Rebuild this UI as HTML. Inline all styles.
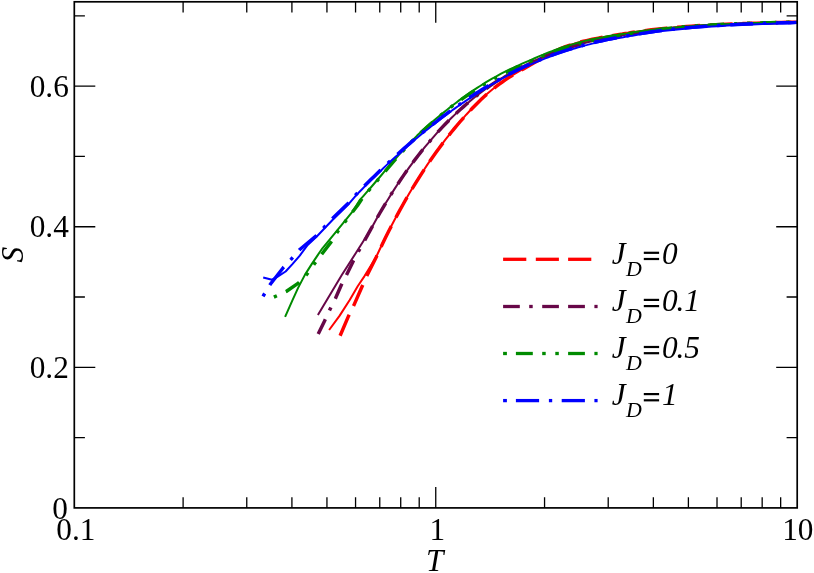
<!DOCTYPE html>
<html><head><meta charset="utf-8"><title>S vs T</title>
<style>html,body{margin:0;padding:0;background:#fff;}body{width:814px;height:573px;overflow:hidden;position:relative;font-family:"Liberation Serif",serif;}</style>
</head><body>
<svg width="814" height="573" viewBox="0 0 814 573" style="position:absolute;left:0;top:0;will-change:transform">
<rect x="0" y="0" width="814" height="573" fill="#fff"/>
<clipPath id="c"><rect x="74.3" y="1.8" width="722.9000000000001" height="506.09999999999997"/></clipPath>
<g clip-path="url(#c)">
<polyline points="340.1,335.7 348.6,315.9 353.7,305.6 362.2,286.3 366.7,276.1 376.3,256.9 379.3,250.5 382.3,244.3 385.3,238.1 388.3,232.1 391.3,226.2 394.3,220.5 397.3,214.9 400.3,209.4 403.3,204.0 406.3,198.7 409.3,193.6 412.3,188.5 415.3,183.6 418.3,178.8 421.3,174.1 424.3,169.5 427.3,164.9 430.3,160.5 433.3,156.2 436.3,152.0 439.3,147.9 442.3,143.9 445.3,139.9 448.3,136.1 451.3,132.3 454.3,128.6 457.3,125.0 460.3,121.5 463.3,118.1 466.3,114.7 469.3,111.5 472.3,108.3 475.3,105.2 478.3,102.2 481.3,99.3 484.3,96.5 487.3,93.8 490.3,91.2 493.3,88.7 496.3,86.4 499.3,84.1 502.3,82.0 505.3,79.9 508.3,77.9 511.3,76.0 514.4,74.2 517.4,72.4 520.4,70.6 523.4,68.9 526.4,67.2 529.4,65.5 532.4,63.8 535.4,62.1 538.4,60.4 541.4,58.7 544.4,57.0 547.4,55.3 550.4,53.7 553.4,52.1 556.4,50.6 559.4,49.1 562.4,47.8 565.4,46.6 568.4,45.6 571.4,44.6 574.4,43.7 577.4,42.8 580.4,42.0 583.4,41.3 586.4,40.6 589.4,39.9 592.4,39.3 595.4,38.7 598.4,38.1 601.4,37.5 604.4,36.9 607.4,36.4 610.4,35.9 613.4,35.4 616.4,34.9 619.4,34.4 622.4,34.0 625.4,33.5 628.4,33.1 631.4,32.5 636.4,31.8 641.4,31.1 646.4,30.4 651.4,29.8 656.4,29.3 661.4,28.7 666.4,28.2 671.4,27.8 676.4,27.3 681.4,26.9 686.4,26.5 691.4,26.2 696.4,25.8 701.4,25.5 706.4,25.2 711.4,24.9 716.4,24.7 721.4,24.4 726.4,24.2 731.4,24.0 736.4,23.8 741.4,23.6 746.4,23.4 751.4,23.2 756.4,23.1 761.4,22.9 766.4,22.8 771.4,22.7 776.4,22.5 781.4,22.4 786.4,22.3 791.4,22.2 796.4,22.1 797.0,22.1" fill="none" stroke="#ff0000" stroke-width="3.45" stroke-linejoin="round" stroke-dasharray="22.89,9.81" stroke-dashoffset="0"/>
<polyline points="329.1,330.0 339.5,315.9 349.7,300.0 357.7,286.3 364.5,276.1 376.2,256.9 379.2,250.5 382.2,244.3 385.2,238.1 388.2,232.1 391.2,226.2 394.2,220.5 397.2,214.9 400.2,209.4 403.2,204.0 406.2,198.7 409.2,193.6 412.2,188.5 415.2,183.6 418.2,178.8 421.2,174.1 424.2,169.5 427.2,164.9 430.2,160.5 433.2,156.2 436.2,152.0 439.2,147.9 442.2,143.9 445.2,139.9 448.2,136.1 451.2,132.3 454.2,128.6 457.2,125.0 460.2,121.5 463.2,118.1 466.2,114.7 469.2,111.5 472.2,108.3 475.2,105.2 478.2,102.2 481.2,99.3 484.2,96.5 487.2,93.8 490.2,91.2 493.2,88.7 496.2,86.4 499.2,84.1 502.2,82.0 505.2,79.9 508.2,77.9 511.2,76.0 514.2,74.2 517.2,72.4 520.2,70.6 523.2,68.9 526.2,67.2 529.2,65.5 532.2,63.8 535.2,62.1 538.2,60.4 541.2,58.7 544.2,57.0 547.2,55.3 550.2,53.7 553.2,52.1 556.2,50.6 559.2,49.1 562.2,47.8 565.2,46.6 568.2,45.6 571.2,44.6 574.2,43.7 577.2,42.8 580.2,42.0 583.2,41.3 586.2,40.6 589.2,39.9 592.2,39.3 595.2,38.7 598.2,38.1 601.2,37.5 604.2,36.9 607.2,36.4 610.2,35.9 613.2,35.4 616.2,34.9 619.2,34.4 622.2,34.0 625.2,33.5 628.2,33.1 631.2,32.5 636.2,31.8 641.2,31.1 646.2,30.4 651.2,29.8 656.2,29.3 661.2,28.7 666.2,28.2 671.2,27.8 676.2,27.3 681.2,26.9 686.2,26.5 691.2,26.2 696.2,25.8 701.2,25.5 706.2,25.2 711.2,24.9 716.2,24.7 721.2,24.4 726.2,24.2 731.2,24.0 736.2,23.8 741.2,23.6 746.2,23.4 751.2,23.2 756.2,23.1 761.2,22.9 766.2,22.8 771.2,22.7 776.2,22.5 781.2,22.4 786.2,22.3 791.2,22.2 796.2,22.1 796.9,22.1" fill="none" stroke="#ff0000" stroke-width="2.0" stroke-linejoin="round"/>
<polyline points="318.2,334.0 324.8,320.4 329.9,309.6 335.5,298.3 341.2,285.2 346.5,275.0 353.1,261.4 358.7,251.0 364.6,240.5 370.6,229.7 373.6,224.2 376.6,218.8 379.6,213.5 382.6,208.4 385.6,203.3 388.6,198.4 391.6,193.6 394.6,188.9 397.6,184.3 400.6,179.8 403.6,175.4 406.6,171.1 409.6,166.9 412.6,162.8 415.6,158.9 418.6,155.0 421.6,151.1 424.6,147.4 427.6,143.8 430.6,140.3 433.6,136.8 436.6,133.4 439.6,130.1 442.6,126.9 445.6,123.8 448.6,120.7 451.6,117.8 454.6,114.9 457.6,112.0 460.6,109.3 463.6,106.6 466.6,104.0 469.6,101.4 472.6,99.0 475.6,96.5 478.6,94.2 481.6,91.9 484.6,89.7 487.6,87.5 490.6,85.4 493.6,83.4 496.6,81.4 499.6,79.4 502.6,77.6 505.6,75.7 508.6,74.0 511.6,72.2 514.6,70.6 517.6,68.9 520.6,67.4 523.6,65.8 526.6,64.3 529.6,62.9 532.6,61.5 535.6,60.1 538.6,58.8 541.6,57.5 544.6,56.3 547.6,55.1 550.6,53.9 553.6,52.8 556.6,51.7 559.6,50.6 562.6,49.6 565.6,48.6 568.6,47.6 571.6,46.7 574.6,45.8 577.6,45.0 580.6,44.1 583.6,43.3 586.6,42.6 589.6,41.8 592.6,41.1 595.6,40.4 598.6,39.7 601.6,39.1 604.6,38.5 607.6,37.9 610.6,37.3 613.6,36.7 616.6,36.2 619.6,35.7 622.6,35.2 625.6,34.7 628.6,34.2 631.6,33.9 636.6,33.0 641.6,32.3 646.6,31.6 651.6,30.9 656.6,30.3 661.6,29.7 666.6,29.1 671.6,28.6 676.6,28.1 681.6,27.7 686.6,27.2 691.6,26.8 696.6,26.4 701.6,26.1 706.6,25.7 711.6,25.4 716.6,25.1 721.6,24.9 726.6,24.6 731.6,24.4 736.6,24.1 741.6,23.9 746.6,23.7 751.6,23.5 756.6,23.4 761.6,23.2 766.6,23.0 771.6,22.9 776.6,22.8 781.6,22.6 786.6,22.5 791.6,22.4 796.6,22.3 796.9,22.3" fill="none" stroke="#670748" stroke-width="3.45" stroke-linejoin="round" stroke-dasharray="16.35,9.81,3.27,9.81,16.35,9.81" stroke-dashoffset="0"/>
<polyline points="317.9,314.9 341.8,275.0 356.5,252.0 370.6,229.7 373.6,224.2 376.6,218.8 379.6,213.5 382.6,208.4 385.6,203.3 388.6,198.4 391.6,193.6 394.6,188.9 397.6,184.3 400.6,179.8 403.6,175.4 406.6,171.1 409.6,166.9 412.6,162.8 415.6,158.9 418.6,155.0 421.6,151.1 424.6,147.4 427.6,143.8 430.6,140.3 433.6,136.8 436.6,133.4 439.6,130.1 442.6,126.9 445.6,123.8 448.6,120.7 451.6,117.8 454.6,114.9 457.6,112.0 460.6,109.3 463.6,106.6 466.6,104.0 469.6,101.4 472.6,99.0 475.6,96.5 478.6,94.2 481.6,91.9 484.6,89.7 487.6,87.5 490.6,85.4 493.6,83.4 496.6,81.4 499.6,79.4 502.6,77.6 505.6,75.7 508.6,74.0 511.6,72.2 514.6,70.6 517.6,68.9 520.6,67.4 523.6,65.8 526.6,64.3 529.6,62.9 532.6,61.5 535.6,60.1 538.6,58.8 541.6,57.5 544.6,56.3 547.6,55.1 550.6,53.9 553.6,52.8 556.6,51.7 559.6,50.6 562.6,49.6 565.6,48.6 568.6,47.6 571.6,46.7 574.6,45.8 577.6,45.0 580.6,44.1 583.6,43.3 586.6,42.6 589.6,41.8 592.6,41.1 595.6,40.4 598.6,39.7 601.6,39.1 604.6,38.5 607.6,37.9 610.6,37.3 613.6,36.7 616.6,36.2 619.6,35.7 622.6,35.2 625.6,34.7 628.6,34.2 631.6,33.9 636.6,33.0 641.6,32.3 646.6,31.6 651.6,30.9 656.6,30.3 661.6,29.7 666.6,29.1 671.6,28.6 676.6,28.1 681.6,27.7 686.6,27.2 691.6,26.8 696.6,26.4 701.6,26.1 706.6,25.7 711.6,25.4 716.6,25.1 721.6,24.9 726.6,24.6 731.6,24.4 736.6,24.1 741.6,23.9 746.6,23.7 751.6,23.5 756.6,23.4 761.6,23.2 766.6,23.0 771.6,22.9 776.6,22.8 781.6,22.6 786.6,22.5 791.6,22.4 796.6,22.3 796.9,22.3" fill="none" stroke="#670748" stroke-width="2.0" stroke-linejoin="round"/>
<polyline points="273.9,297.1 286.2,291.5 298.7,282.8 307.0,274.1 314.6,263.5 321.9,254.0 331.0,242.1 337.4,231.9 345.1,221.7 352.5,212.0 357.5,205.5 363.5,196.5 366.5,193.1 369.5,189.7 372.5,186.2 375.5,182.7 378.5,179.2 381.5,175.7 384.5,172.1 387.5,168.6 390.5,165.1 393.5,161.7 396.5,158.2 399.5,154.8 402.5,151.5 405.5,148.2 408.5,145.0 411.5,141.8 414.5,138.8 417.5,135.8 420.5,133.0 423.5,130.2 426.5,127.5 429.5,124.9 432.5,122.3 435.5,119.7 438.5,117.2 441.5,114.7 444.5,112.3 447.5,109.9 450.5,107.5 453.5,105.2 456.5,103.0 459.5,100.8 462.5,98.7 465.5,96.6 468.5,94.5 471.5,92.5 474.5,90.6 477.5,88.6 480.5,86.8 483.5,84.9 486.5,83.2 489.5,81.4 492.5,79.7 495.5,78.0 498.5,76.3 501.5,74.7 504.5,73.2 507.5,71.7 510.5,70.2 513.5,68.8 516.5,67.4 519.5,66.1 522.5,64.7 525.5,63.4 528.5,62.1 531.5,60.8 534.5,59.5 537.5,58.2 540.5,56.9 543.5,55.7 546.5,54.4 549.5,53.2 552.5,52.1 555.5,51.0 558.5,49.9 561.5,48.8 564.5,47.8 567.5,46.9 570.5,46.0 573.5,45.1 576.5,44.2 579.5,43.4 582.5,42.6 585.5,41.9 588.5,41.2 591.5,40.5 594.5,39.9 597.5,39.3 600.5,38.7 603.5,38.1 606.5,37.6 609.5,37.0 612.5,36.5 615.5,36.0 618.5,35.5 621.5,35.0 624.5,34.5 627.5,34.1 630.5,33.5 635.5,32.7 640.5,31.9 645.5,31.2 650.5,30.5 655.5,29.9 660.5,29.3 665.5,28.7 670.5,28.2 675.5,27.7 680.5,27.2 685.5,26.7 690.5,26.3 695.5,26.0 700.5,25.6 705.5,25.3 710.5,25.0 715.5,24.7 720.5,24.5 725.5,24.2 730.5,24.0 735.5,23.8 740.5,23.6 745.5,23.4 750.5,23.2 755.5,23.0 760.5,22.9 765.5,22.7 770.5,22.6 775.5,22.4 780.5,22.3 785.5,22.2 790.5,22.1 795.5,22.0 797.3,21.9" fill="none" stroke="#008b00" stroke-width="3.45" stroke-linejoin="round" stroke-dasharray="3.27,9.81,16.35,9.81,3.27,9.81" stroke-dashoffset="0"/>
<polyline points="285.1,316.8 292.4,300.4 298.1,287.9 304.9,274.9 311.7,264.1 317.4,255.6 322.4,248.3 332.7,235.9 342.9,223.4 353.1,210.9 360.1,199.6 363.1,196.3 366.1,192.9 369.1,189.5 372.1,186.0 375.1,182.5 378.1,179.0 381.1,175.5 384.1,171.9 387.1,168.4 390.1,164.9 393.1,161.5 396.1,158.0 399.1,154.6 402.1,151.3 405.1,148.0 408.1,144.8 411.1,141.6 414.1,138.6 417.1,135.6 420.1,132.8 423.1,130.0 426.1,127.3 429.1,124.7 432.1,122.1 435.1,119.5 438.1,117.0 441.1,114.5 444.1,112.1 447.1,109.7 450.1,107.3 453.1,105.0 456.1,102.7 459.1,100.4 462.1,98.2 465.1,96.1 468.1,94.0 471.1,91.9 474.1,89.9 477.1,87.9 480.1,86.0 483.1,84.1 486.1,82.2 489.1,80.4 492.1,78.7 495.1,77.0 498.1,75.3 501.1,73.7 504.1,72.2 507.1,70.7 510.1,69.2 513.1,67.8 516.1,66.4 519.1,65.1 522.1,63.7 525.1,62.4 528.1,61.1 531.1,59.8 534.1,58.5 537.1,57.2 540.1,55.9 543.1,54.7 546.1,53.4 549.1,52.2 552.1,51.1 555.1,50.0 558.1,48.9 561.1,47.8 564.1,46.8 567.1,45.9 570.1,45.0 573.1,44.1 576.1,43.2 579.1,42.4 582.1,41.6 585.1,40.9 588.1,40.2 591.1,39.5 594.1,38.9 597.1,38.3 600.1,37.7 603.1,37.2 606.1,36.6 609.1,36.1 612.1,35.6 615.1,35.1 618.1,34.7 621.1,34.2 624.1,33.8 627.1,33.4 630.1,32.8 635.1,32.0 640.1,31.3 645.1,30.7 650.1,30.1 655.1,29.5 660.1,28.9 665.1,28.4 670.1,28.0 675.1,27.5 680.1,27.1 685.1,26.7 690.1,26.3 695.1,26.0 700.1,25.6 705.1,25.3 710.1,25.0 715.1,24.8 720.1,24.5 725.1,24.3 730.1,24.1 735.1,23.9 740.1,23.7 745.1,23.5 750.1,23.3 755.1,23.1 760.1,23.0 765.1,22.8 770.1,22.7 775.1,22.6 780.1,22.5 785.1,22.4 790.1,22.3 795.1,22.2 796.9,22.1" fill="none" stroke="#008b00" stroke-width="2.0" stroke-linejoin="round"/>
<polyline points="263.0,296.3 270.3,284.3 283.4,267.5 291.3,259.1 299.8,249.5 316.2,235.9 324.1,227.3 332.7,218.3 348.5,203.0 356.1,194.5 359.1,191.4 362.1,188.4 365.1,185.3 368.1,182.3 371.1,179.3 374.1,176.4 377.1,173.5 380.1,170.6 383.1,167.7 386.1,164.8 389.1,162.0 392.1,159.2 395.1,156.5 398.1,153.8 401.1,151.1 404.1,148.4 407.1,145.7 410.1,143.1 413.1,140.5 416.1,138.0 419.1,135.5 422.1,133.0 425.1,130.5 428.1,128.1 431.1,125.7 434.1,123.3 437.1,121.0 440.1,118.6 443.1,116.4 446.1,114.1 449.1,111.9 452.1,109.7 455.1,107.5 458.1,105.4 461.1,103.3 464.1,101.3 467.1,99.2 470.1,97.2 473.1,95.3 476.1,93.3 479.1,91.4 482.1,89.5 485.1,87.7 488.1,85.9 491.1,84.1 494.1,82.4 497.1,80.7 500.1,79.0 503.1,77.3 506.1,75.7 509.1,74.1 512.1,72.6 515.1,71.1 518.1,69.6 521.1,68.2 524.1,66.8 527.1,65.4 530.1,64.0 533.1,62.7 536.1,61.4 539.1,60.2 542.1,59.0 545.1,57.8 548.1,56.6 551.1,55.5 554.1,54.4 557.1,53.3 560.1,52.3 563.1,51.3 566.1,50.3 569.1,49.4 572.1,48.5 575.1,47.6 578.1,46.7 581.1,45.9 584.1,45.0 587.1,44.3 590.1,43.5 593.1,42.8 596.1,42.0 599.1,41.4 602.1,40.7 605.1,40.0 608.1,39.4 611.1,38.8 614.1,38.2 617.1,37.6 620.1,37.1 623.1,36.6 626.1,36.0 629.1,35.5 632.1,35.1 637.1,34.2 642.1,33.4 647.1,32.6 652.1,31.8 657.1,31.1 662.1,30.5 667.1,29.9 672.1,29.3 677.1,28.8 682.1,28.3 687.1,27.8 692.1,27.4 697.1,27.0 702.1,26.6 707.1,26.2 712.1,25.9 717.1,25.6 722.1,25.3 727.1,25.0 732.1,24.7 737.1,24.5 742.1,24.2 747.1,24.0 752.1,23.8 757.1,23.6 762.1,23.4 767.1,23.3 772.1,23.1 777.1,22.9 782.1,22.8 787.1,22.7 792.1,22.6 796.9,22.4" fill="none" stroke="#0000ff" stroke-width="3.45" stroke-linejoin="round" stroke-dasharray="3.27,9.81,22.89,9.81" stroke-dashoffset="0"/>
<polyline points="263.2,277.5 272.0,279.7 277.7,276.6 285.6,271.5 292.4,264.1 299.8,255.6 307.7,244.9 317.0,236.2 324.6,228.3 333.2,219.3 349.0,203.7 356.3,195.1 359.3,192.0 362.3,189.0 365.3,185.9 368.3,182.9 371.3,179.9 374.3,177.0 377.3,174.1 380.3,171.2 383.3,168.3 386.3,165.4 389.3,162.6 392.3,159.8 395.3,157.1 398.3,154.4 401.3,151.7 404.3,149.0 407.3,146.3 410.3,143.7 413.3,141.1 416.3,138.6 419.3,136.1 422.3,133.6 425.3,131.1 428.3,128.7 431.3,126.3 434.3,123.9 437.3,121.6 440.3,119.2 443.3,117.0 446.3,114.7 449.3,112.5 452.3,110.3 455.3,108.1 458.3,106.0 461.3,103.9 464.3,101.9 467.3,99.8 470.3,97.8 473.3,95.9 476.3,93.9 479.3,92.0 482.3,90.1 485.3,88.3 488.3,86.5 491.3,84.7 494.3,83.0 497.3,81.3 500.3,79.6 503.3,77.9 506.3,76.3 509.3,74.7 512.3,73.2 515.3,71.7 518.3,70.2 521.3,68.8 524.3,67.4 527.3,66.0 530.3,64.6 533.3,63.3 536.3,62.0 539.3,60.8 542.3,59.6 545.3,58.4 548.3,57.2 551.3,56.1 554.3,55.0 557.3,53.9 560.3,52.9 563.3,51.9 566.3,50.9 569.3,50.0 572.3,49.1 575.3,48.2 578.3,47.3 581.3,46.5 584.3,45.6 587.3,44.9 590.3,44.1 593.3,43.4 596.3,42.6 599.3,42.0 602.3,41.3 605.3,40.6 608.3,40.0 611.3,39.4 614.3,38.8 617.3,38.2 620.3,37.7 623.3,37.2 626.3,36.6 629.3,36.1 632.3,35.7 637.3,34.8 642.3,34.0 647.3,33.2 652.3,32.4 657.3,31.7 662.3,31.1 667.3,30.5 672.3,29.9 677.3,29.4 682.3,28.9 687.3,28.4 692.3,28.0 697.3,27.6 702.3,27.2 707.3,26.8 712.3,26.5 717.3,26.2 722.3,25.9 727.3,25.6 732.3,25.3 737.3,25.1 742.3,24.8 747.3,24.6 752.3,24.4 757.3,24.2 762.3,24.0 767.3,23.9 772.3,23.7 777.3,23.5 782.3,23.4 787.3,23.3 792.3,23.2 797.1,23.0" fill="none" stroke="#0000ff" stroke-width="2.0" stroke-linejoin="round"/>
</g>
<path d="M183.11 507.9 v-10.6 M183.11 1.8 v10.6 M246.76 507.9 v-10.6 M246.76 1.8 v10.6 M291.91 507.9 v-10.6 M291.91 1.8 v10.6 M326.94 507.9 v-10.6 M326.94 1.8 v10.6 M355.56 507.9 v-10.6 M355.56 1.8 v10.6 M379.76 507.9 v-10.6 M379.76 1.8 v10.6 M400.72 507.9 v-10.6 M400.72 1.8 v10.6 M419.21 507.9 v-10.6 M419.21 1.8 v10.6 M435.75 507.9 v-21 M435.75 1.8 v21 M544.56 507.9 v-10.6 M544.56 1.8 v10.6 M608.21 507.9 v-10.6 M608.21 1.8 v10.6 M653.36 507.9 v-10.6 M653.36 1.8 v10.6 M688.39 507.9 v-10.6 M688.39 1.8 v10.6 M717.01 507.9 v-10.6 M717.01 1.8 v10.6 M741.21 507.9 v-10.6 M741.21 1.8 v10.6 M762.17 507.9 v-10.6 M762.17 1.8 v10.6 M780.66 507.9 v-10.6 M780.66 1.8 v10.6 M74.3 437.61 h10.6 M797.2 437.61 h-10.6 M74.3 367.32 h21 M797.2 367.32 h-21 M74.3 297.02 h10.6 M797.2 297.02 h-10.6 M74.3 226.73 h21 M797.2 226.73 h-21 M74.3 156.44 h10.6 M797.2 156.44 h-10.6 M74.3 86.15 h21 M797.2 86.15 h-21 M74.3 15.86 h10.6 M797.2 15.86 h-10.6" stroke="#000" stroke-width="1.3" fill="none"/>
<rect x="74.3" y="1.8" width="722.90" height="506.10" fill="none" stroke="#000" stroke-width="1.7"/>
<rect x="503.1" y="257.65" width="23.20" height="3.3" fill="#ff0000"/>
<rect x="535.8" y="257.65" width="23.10" height="3.3" fill="#ff0000"/>
<rect x="568.1" y="257.65" width="23.20" height="3.3" fill="#ff0000"/>
<rect x="503.1" y="304.85" width="16.70" height="3.3" fill="#670748"/>
<rect x="529.2" y="304.85" width="3.50" height="3.3" fill="#670748"/>
<rect x="542.2" y="304.85" width="16.70" height="3.3" fill="#670748"/>
<rect x="568.1" y="304.85" width="16.80" height="3.3" fill="#670748"/>
<rect x="594.4" y="304.85" width="3.20" height="3.3" fill="#670748"/>
<rect x="503.1" y="351.85" width="3.80" height="3.3" fill="#008b00"/>
<rect x="515.9" y="351.85" width="16.90" height="3.3" fill="#008b00"/>
<rect x="542.2" y="351.85" width="3.50" height="3.3" fill="#008b00"/>
<rect x="555.3" y="351.85" width="3.50" height="3.3" fill="#008b00"/>
<rect x="568.1" y="351.85" width="16.80" height="3.3" fill="#008b00"/>
<rect x="594.4" y="351.85" width="3.20" height="3.3" fill="#008b00"/>
<rect x="503.1" y="398.95" width="3.80" height="3.3" fill="#0000ff"/>
<rect x="515.9" y="398.95" width="23.20" height="3.3" fill="#0000ff"/>
<rect x="548.9" y="398.95" width="3.30" height="3.3" fill="#0000ff"/>
<rect x="561.7" y="398.95" width="23.20" height="3.3" fill="#0000ff"/>
<rect x="594.4" y="398.95" width="3.20" height="3.3" fill="#0000ff"/>
<g style="font-family:'Liberation Serif',serif" fill="#000">
<text x="67.9" y="518.5" font-size="31.3" text-anchor="end">0</text>
<text x="68.8" y="377.9" font-size="31.3" text-anchor="end">0.2</text>
<text x="68.8" y="237.3" font-size="31.3" text-anchor="end">0.4</text>
<text x="68.8" y="96.8" font-size="31.3" text-anchor="end">0.6</text>
<text x="75.9" y="540.0" font-size="31.3" text-anchor="middle">0.1</text>
<text x="437.4" y="540.0" font-size="31.3" text-anchor="middle">1</text>
<text x="797.8" y="540.0" font-size="31.3" text-anchor="middle">10</text>
<text x="426.0" y="570.8" font-size="31.3" text-anchor="start" font-style="italic">T</text>
<text font-size="31.3" font-style="italic" text-anchor="middle" transform="translate(22.8,254.7) rotate(-90)">S</text>
<text x="611.7" y="263.8" font-size="31.3" font-style="italic">J</text>
<text x="626.0" y="275.8" font-size="21.9" font-style="italic">D</text>
<rect x="643.8" y="251.70" width="15.3" height="2.2" fill="#000"/><rect x="643.8" y="257.90" width="15.3" height="2.2" fill="#000"/>
<text x="662.1" y="263.8" font-size="31.3" font-style="italic">0</text>
<text x="611.7" y="310.9" font-size="31.3" font-style="italic">J</text>
<text x="626.0" y="322.9" font-size="21.9" font-style="italic">D</text>
<rect x="643.8" y="298.80" width="15.3" height="2.2" fill="#000"/><rect x="643.8" y="305.00" width="15.3" height="2.2" fill="#000"/>
<text x="662.1" y="310.9" font-size="31.3" font-style="italic">0<tspan dx="-1.2">.1</tspan></text>
<text x="611.7" y="358.0" font-size="31.3" font-style="italic">J</text>
<text x="626.0" y="370.0" font-size="21.9" font-style="italic">D</text>
<rect x="643.8" y="345.90" width="15.3" height="2.2" fill="#000"/><rect x="643.8" y="352.10" width="15.3" height="2.2" fill="#000"/>
<text x="662.1" y="358.0" font-size="31.3" font-style="italic">0<tspan dx="-1.2">.5</tspan></text>
<text x="611.7" y="405.1" font-size="31.3" font-style="italic">J</text>
<text x="626.0" y="417.1" font-size="21.9" font-style="italic">D</text>
<rect x="643.8" y="393.00" width="15.3" height="2.2" fill="#000"/><rect x="643.8" y="399.20" width="15.3" height="2.2" fill="#000"/>
<text x="662.1" y="405.1" font-size="31.3" font-style="italic">1</text>
</g>
</svg>
</body></html>
